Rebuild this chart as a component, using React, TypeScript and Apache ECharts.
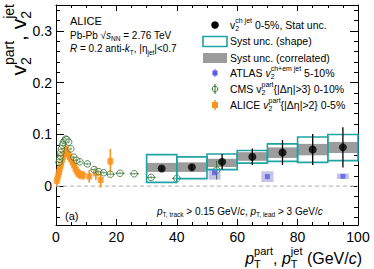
import React, { useEffect, useRef } from "react";
import * as echarts from "echarts";

const FONT = "'Liberation Sans', Arial, Helvetica, sans-serif";

// ---- axis ticks ----
const xMajor = [0, 20, 40, 60, 80, 100];
const xMinor = [5, 10, 15, 25, 30, 35, 45, 50, 55, 65, 70, 75, 85, 90, 95];
const yMajor = [0, 0.1, 0.2, 0.3];
const yMinor = [-0.06, -0.04, -0.02, 0.02, 0.04, 0.06, 0.08, 0.12, 0.14, 0.16, 0.18, 0.22, 0.24, 0.26, 0.28, 0.32, 0.34];

// ---- ALICE charged jet v2 (0-5%) ----
const jetPt = [35, 45, 55, 65, 75, 85, 95];
const jetV2 = [0.034, 0.0365, 0.047, 0.057, 0.065, 0.071, 0.075];
const jetStat = [0.004, 0.006, 0.015, 0.016, 0.024, 0.03, 0.039];
const jetShapeLo = [0.0074, 0.0146, 0.032, 0.0445, 0.048, 0.046, 0.0494];
const jetShapeHi = [0.061, 0.0567, 0.0623, 0.069, 0.0817, 0.095, 0.0997];
const jetCorrLo = [0.0275, 0.0275, 0.037, 0.049, 0.0546, 0.0596, 0.064];
const jetCorrHi = [0.045, 0.046, 0.053, 0.0657, 0.075, 0.0817, 0.0855];
const jetBinHalf = [5, 5, 5, 5, 5, 5, 5];

// ---- ATLAS ----
const atlasPt = [52.5, 70, 95];
const atlasV2 = [0.026, 0.0185, 0.019];
const atlasSysLo = [0.0126, 0.008, 0.014];
const atlasSysHi = [0.034, 0.0287, 0.0243];
const atlasBoxHalf = [2, 2, 2];

// ---- CMS ----
const cmsPt = [1.0, 1.2, 1.4, 1.6, 1.8, 2.1, 2.4, 2.8, 3.2, 3.6, 4.2, 4.9, 5.9, 6.8, 7.9, 10.4, 12.6, 14.2, 15.8, 18.0, 21.2, 25.9, 31.5, 40.0, 53.2];
const cmsV2 = [0.046, 0.052, 0.058, 0.065, 0.072, 0.079, 0.084, 0.088, 0.091, 0.09, 0.085, 0.072, 0.056, 0.05, 0.047, 0.043, 0.032, 0.028, 0.026, 0.023, 0.025, 0.024, 0.017, 0.015, 0.031];
const cmsErrY = [0.002, 0.002, 0.002, 0.002, 0.002, 0.002, 0.002, 0.002, 0.002, 0.002, 0.002, 0.002, 0.002, 0.002, 0.002, 0.002, 0.002, 0.002, 0.002, 0.002, 0.002, 0.002, 0.003, 0.003, 0.018];
const cmsErrX = [0.1, 0.1, 0.1, 0.1, 0.1, 0.15, 0.15, 0.2, 0.2, 0.2, 0.3, 0.4, 0.5, 0.5, 0.6, 1.2, 1.0, 1.0, 1.0, 1.5, 1.5, 1.5, 1.5, 1.5, 0];

// ---- ALICE charged-particle v2 (0-5%) ----
const alicePt = [0.25, 0.5, 0.75, 1.0, 1.25, 1.5, 1.75, 2.0, 2.25, 2.5, 2.75, 3.0, 3.25, 3.5, 3.75, 4.0, 4.5, 5.0, 5.5, 6.0, 6.5, 7.0, 7.5, 8.0, 9.0, 11.0, 13.2, 14.8, 18.0];
const aliceV2 = [0.01, 0.015, 0.021, 0.027, 0.033, 0.039, 0.045, 0.051, 0.056, 0.061, 0.065, 0.068, 0.07, 0.069, 0.066, 0.062, 0.057, 0.052, 0.046, 0.04, 0.033, 0.028, 0.024, 0.022, 0.021, 0.019, 0.025, 0.012, 0.048];
const aliceErr = [0.008, 0.008, 0.008, 0.008, 0.008, 0.008, 0.008, 0.008, 0.008, 0.008, 0.008, 0.008, 0.008, 0.008, 0.008, 0.008, 0.008, 0.008, 0.008, 0.008, 0.008, 0.008, 0.008, 0.008, 0.008, 0.012, 0.013, 0.015, 0.024];
const aliceSysLo = [0.0, 0.004, 0.01, 0.016, 0.022, 0.028, 0.034, 0.04, 0.045, 0.05, 0.054, 0.057, 0.059, 0.058, 0.055, 0.051, 0.046, 0.041, 0.035, 0.029, 0.023, 0.018, 0.015, 0.013, 0.013, 0.013, 0.019, 0.007, 0.041];
const aliceSysHi = [0.02, 0.026, 0.032, 0.038, 0.044, 0.05, 0.056, 0.062, 0.067, 0.072, 0.076, 0.079, 0.081, 0.08, 0.077, 0.073, 0.068, 0.063, 0.057, 0.051, 0.043, 0.038, 0.033, 0.031, 0.029, 0.025, 0.031, 0.017, 0.055];
const aliceBoxHalf = [0.2, 0.2, 0.2, 0.2, 0.2, 0.2, 0.2, 0.2, 0.2, 0.2, 0.2, 0.2, 0.2, 0.2, 0.2, 0.3, 0.3, 0.3, 0.3, 0.3, 0.3, 0.3, 0.3, 0.4, 0.5, 0.6, 0.6, 0.6, 0.6];

const zeroX = [0, 100];
const zeroY = [0, 0];

const TEAL = "#1fa3a3";
const GRAY = "#9c9c9c";
const ORANGE = "#f7941d";
const ORANGE_BOX = "rgba(248,160,70,0.75)";
const GREEN = "#2f6f2f";
const BLUE = "#5a5ae6";
const LAVENDER = "rgba(125,125,205,0.45)";

// ---- text helpers ----
let _ctx: CanvasRenderingContext2D | null = null;
function measure(t: string, size: number, italic?: boolean) {
  if (!_ctx) _ctx = document.createElement("canvas").getContext("2d");
  _ctx!.font = `${italic ? "italic " : ""}${size}px ${FONT}`;
  return _ctx!.measureText(t).width;
}
type Seg = { t?: string; it?: boolean; sup?: string; sub?: string; supIt?: boolean };
function txt(x: number, y: number, text: string, size: number, italic: boolean | undefined, color: string) {
  return {
    type: "text",
    x,
    y,
    silent: true,
    style: {
      text,
      fill: color,
      fontSize: size,
      fontFamily: FONT,
      fontStyle: italic ? "italic" : "normal",
      align: "left",
      verticalAlign: "middle",
      textAlign: "left",
      textVerticalAlign: "middle",
    },
  };
}
function segWidth(segs: Seg[], size: number, ss: number) {
  let w = 0;
  for (const s of segs) {
    if (s.t !== undefined) w += measure(s.t, size, s.it);
    else w += Math.max(s.sup ? measure(s.sup, ss, s.supIt) : 0, s.sub ? measure(s.sub, ss) : 0);
  }
  return w;
}
function rich(x0: number, y0: number, segs: Seg[], size: number, ssz?: number, color = "#000") {
  const ss = ssz ?? size * 0.68;
  const out: any[] = [];
  let x = x0;
  for (const s of segs) {
    if (s.t !== undefined) {
      out.push(txt(x, y0, s.t, size, s.it, color));
      x += measure(s.t, size, s.it);
    } else {
      let w = 0;
      if (s.sup) {
        out.push(txt(x, y0 - size * 0.42, s.sup, ss, s.supIt, color));
        w = Math.max(w, measure(s.sup, ss, s.supIt));
      }
      if (s.sub) {
        out.push(txt(x, y0 + size * 0.36, s.sub, ss, false, color));
        w = Math.max(w, measure(s.sub, ss));
      }
      x += w;
    }
  }
  return out;
}

// ---- series helpers ----
function boxSeries(xs: number[], lo: number[], hi: number[], half: number[], style: any, z: number) {
  return {
    type: "custom",
    silent: true,
    z,
    data: xs.map((x, i) => [x, lo[i], hi[i], half[i]]),
    renderItem: (_p: any, api: any) => {
      const x = api.value(0), l = api.value(1), h = api.value(2), hw = api.value(3);
      const a = api.coord([x - hw, h]);
      const b = api.coord([x + hw, l]);
      return {
        type: "rect",
        shape: { x: a[0], y: a[1], width: b[0] - a[0], height: b[1] - a[1] },
        style,
      };
    },
  };
}
function errSeries(xs: number[], ys: number[], ey: number[], ex: number[] | null, color: string, width: number, z: number) {
  return {
    type: "custom",
    silent: true,
    z,
    data: xs.map((x, i) => [x, ys[i], ey[i], ex ? ex[i] : 0]),
    renderItem: (_p: any, api: any) => {
      const x = api.value(0), y = api.value(1), e = api.value(2), w = api.value(3);
      const children: any[] = [];
      const a = api.coord([x, y - e]);
      const b = api.coord([x, y + e]);
      children.push({ type: "line", shape: { x1: a[0], y1: a[1], x2: b[0], y2: b[1] }, style: { stroke: color, lineWidth: width } });
      if (w > 0) {
        const c = api.coord([x - w, y]);
        const d = api.coord([x + w, y]);
        children.push({ type: "line", shape: { x1: c[0], y1: c[1], x2: d[0], y2: d[1] }, style: { stroke: color, lineWidth: 1 } });
      }
      return { type: "group", children };
    },
  };
}

function xAxisDef(position: string, ticks: number[], len: number, showLine: boolean, labels: boolean) {
  return {
    type: "value",
    min: 0,
    max: 100,
    position,
    axisLine: { show: showLine, onZero: false, lineStyle: { color: "#000", width: 1 } },
    axisTick: { show: true, inside: true, length: len, customValues: ticks, lineStyle: { color: "#000", width: 1 } },
    axisLabel: labels
      ? { show: true, customValues: ticks, color: "#000", fontSize: 14, fontFamily: FONT, margin: 5 }
      : { show: false },
    splitLine: { show: false },
  };
}
function yAxisDef(position: string, ticks: number[], len: number, showLine: boolean, labels: boolean) {
  return {
    type: "value",
    min: -0.075,
    max: 0.35,
    position,
    axisLine: { show: showLine, onZero: false, lineStyle: { color: "#000", width: 1 } },
    axisTick: { show: true, inside: true, length: len, customValues: ticks, lineStyle: { color: "#000", width: 1 } },
    axisLabel: labels
      ? {
          show: true,
          customValues: ticks,
          color: "#000",
          fontSize: 14,
          fontFamily: FONT,
          margin: 4,
          formatter: (v: number) => (Math.abs(v) < 1e-9 ? "0" : v.toFixed(1)),
        }
      : { show: false },
    splitLine: { show: false },
  };
}

export default function App() {
  const ref = useRef<HTMLDivElement>(null);
  useEffect(() => {
    if (!ref.current) return;
    const chart = echarts.init(ref.current, null, { renderer: "svg" });

    const legX = 230;
    const legSize = 10.5;
    const legSS = 7;
    const legend: any[] = [
      ...rich(legX, 25, [{ t: "v" }, { sub: "2", sup: "ch jet" }, { t: " 0-5%, Stat unc." }], legSize, legSS),
      ...rich(legX, 41, [{ t: "Syst unc. (shape)" }], legSize, legSS),
      ...rich(legX, 58, [{ t: "Syst unc. (correlated)" }], legSize, legSS),
      ...rich(legX, 73, [{ t: "ATLAS " }, { t: "v", it: true }, { sub: "2", sup: "ch+em jet", supIt: false }, { t: " 5-10%" }], legSize, legSS),
      ...rich(legX, 89, [{ t: "CMS v" }, { sub: "2", sup: "part" }, { t: "{|Δη|>3} 0-10%" }], legSize, legSS),
      ...rich(legX, 105, [{ t: "ALICE " }, { t: "v", it: true }, { sub: "2", sup: "part" }, { t: "{|Δη|>2} 0-5%" }], legSize, legSS),
      { type: "circle", shape: { cx: 215, cy: 25, r: 3.8 }, style: { fill: "#000" }, silent: true },
      { type: "rect", shape: { x: 203, y: 36.5, width: 24, height: 10 }, style: { fill: "#fff", stroke: TEAL, lineWidth: 1.6 }, silent: true },
      { type: "rect", shape: { x: 203, y: 53, width: 24, height: 10 }, style: { fill: GRAY }, silent: true },
      { type: "line", shape: { x1: 215, y1: 69, x2: 215, y2: 77 }, style: { stroke: BLUE, lineWidth: 1 }, silent: true },
      { type: "rect", shape: { x: 212.5, y: 70.5, width: 5, height: 5 }, style: { fill: BLUE }, silent: true },
      { type: "line", shape: { x1: 215, y1: 84, x2: 215, y2: 94 }, style: { stroke: GREEN, lineWidth: 1 }, silent: true },
      { type: "circle", shape: { cx: 215, cy: 89, r: 2.8 }, style: { fill: "rgba(255,255,255,0)", stroke: GREEN, lineWidth: 1 }, silent: true },
      { type: "line", shape: { x1: 215, y1: 100, x2: 215, y2: 110 }, style: { stroke: ORANGE, lineWidth: 1.5 }, silent: true },
      { type: "rect", shape: { x: 212, y: 102, width: 6, height: 6 }, style: { fill: ORANGE }, silent: true },
    ];

    const topLeft: any[] = [
      ...rich(70, 21, [{ t: "ALICE" }], 11),
      ...rich(70, 35, [{ t: "Pb-Pb " }, { t: "√" }, { t: "s", it: true }, { sub: "NN" }, { t: " = 2.76 TeV" }], 10, 6.5),
      ...rich(
        70,
        48.5,
        [{ t: "R", it: true }, { t: " = 0.2 anti-" }, { t: "k", it: true }, { sub: "T" }, { t: ", |η" }, { sub: "jet" }, { t: "|<0.7" }],
        10,
        6.5
      ),
      ...rich(65, 216, [{ t: "(a)" }], 11),
      ...rich(
        157,
        211,
        [
          { t: "p", it: true },
          { sub: "T, track" },
          { t: " > 0.15 GeV/" },
          { t: "c", it: true },
          { t: ", " },
          { t: "p", it: true },
          { sub: "T, lead" },
          { t: " > 3 GeV/" },
          { t: "c", it: true },
        ],
        10,
        6.5
      ),
    ];

    const xTitleSegs: Seg[] = [
      { t: "p", it: true },
      { sub: "T", sup: "part" },
      { t: ", " },
      { t: "p", it: true },
      { sub: "T", sup: "jet" },
      { t: " (GeV/" },
      { t: "c", it: true },
      { t: ")" },
    ];
    const xtSize = 16, xtSS = 11;
    const xtW = segWidth(xTitleSegs, xtSize, xtSS);
    const xTitle = rich(362 - xtW, 258, xTitleSegs, xtSize, xtSS);

    const yTitleSegs: Seg[] = [{ t: "v" }, { sub: "2", sup: "part" }, { t: ", " }, { t: "v" }, { sub: "2", sup: "jet" }];
    const ytSize = 21, ytSS = 14;
    const ytW = segWidth(yTitleSegs, ytSize, ytSS);
    const yTitle = {
      type: "group",
      x: 18,
      y: 4 + ytW,
      rotation: Math.PI / 2,
      children: rich(0, 0, yTitleSegs, ytSize, ytSS),
    };

    const option: any = {
      animation: false,
      backgroundColor: "#fff",
      grid: { left: 56, right: 16, top: 5, bottom: 44, containLabel: false },
      xAxis: [
        xAxisDef("bottom", xMajor, 6, true, true),
        xAxisDef("bottom", xMinor, 3, false, false),
        xAxisDef("top", xMajor, 6, true, false),
        xAxisDef("top", xMinor, 3, false, false),
      ],
      yAxis: [
        yAxisDef("left", yMajor, 8, true, true),
        yAxisDef("left", yMinor, 4, false, false),
        yAxisDef("right", yMajor, 8, true, false),
        yAxisDef("right", yMinor, 4, false, false),
      ],
      series: [
        {
          type: "line",
          silent: true,
          z: 1,
          data: zeroX.map((x, i) => [x, zeroY[i]]),
          symbol: "none",
          lineStyle: { color: "#c0c0c0", width: 1.2, type: [4, 3] },
        },
        boxSeries(jetPt, jetCorrLo, jetCorrHi, jetBinHalf, { fill: GRAY }, 2),
        boxSeries(atlasPt, atlasSysLo, atlasSysHi, atlasBoxHalf, { fill: LAVENDER }, 3),
        boxSeries(alicePt, aliceSysLo, aliceSysHi, aliceBoxHalf, { fill: ORANGE_BOX }, 3),
        errSeries(alicePt, aliceV2, aliceErr, null, ORANGE, 1.6, 4),
        {
          type: "scatter",
          silent: true,
          z: 5,
          symbol: "rect",
          symbolSize: 6,
          itemStyle: { color: ORANGE },
          data: alicePt.map((x, i) => [x, aliceV2[i]]),
        },
        errSeries(cmsPt, cmsV2, cmsErrY, cmsErrX, GREEN, 1, 6),
        {
          type: "scatter",
          silent: true,
          z: 7,
          symbol: "circle",
          symbolSize: 6.5,
          itemStyle: { color: "rgba(255,255,255,0.35)", borderColor: GREEN, borderWidth: 1 },
          data: cmsPt.map((x, i) => [x, cmsV2[i]]),
        },
        boxSeries(jetPt, jetShapeLo, jetShapeHi, jetBinHalf, { fill: "none", stroke: TEAL, lineWidth: 1.6 }, 8),
        {
          type: "scatter",
          silent: true,
          z: 9,
          symbol: "rect",
          symbolSize: 5,
          itemStyle: { color: BLUE },
          data: atlasPt.map((x, i) => [x, atlasV2[i]]),
        },
        errSeries(jetPt, jetV2, jetStat, null, "#000", 1.3, 10),
        {
          type: "scatter",
          silent: true,
          z: 11,
          symbol: "circle",
          symbolSize: 8,
          itemStyle: { color: "#000" },
          data: jetPt.map((x, i) => [x, jetV2[i]]),
        },
      ],
      graphic: [...legend, ...topLeft, ...xTitle, yTitle],
    };
    chart.setOption(option);
    return () => chart.dispose();
  }, []);

  return (
    <div
      ref={ref}
      style={{ position: "fixed", left: 0, top: 0, width: 374, height: 269, background: "#fff" }}
    />
  );
}
